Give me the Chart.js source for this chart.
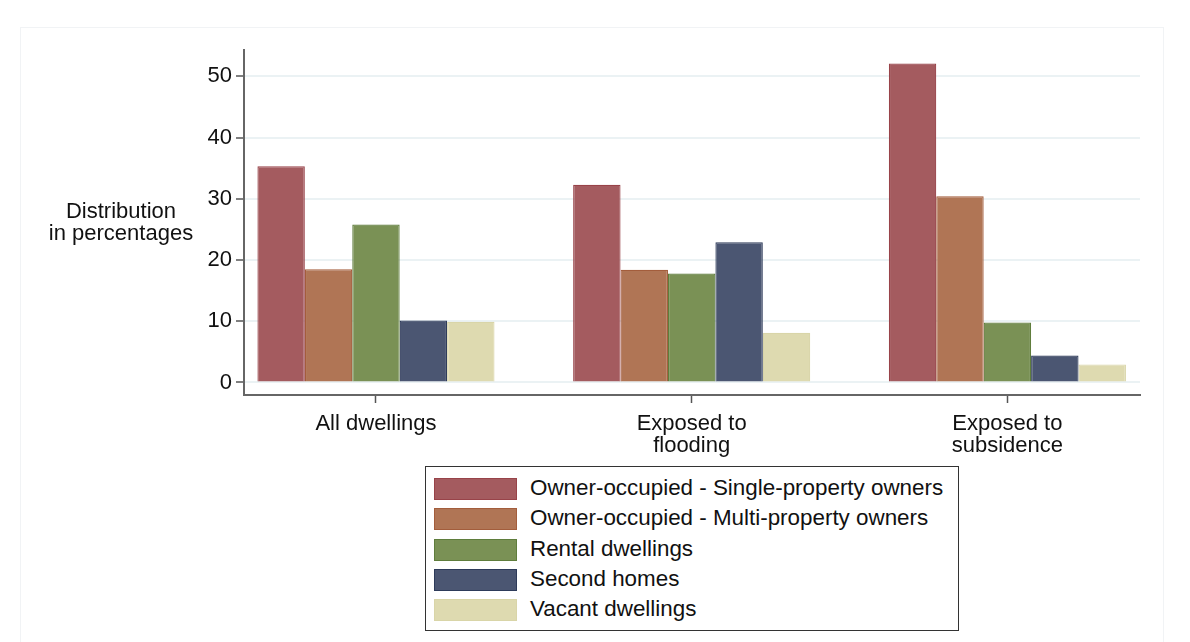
<!DOCTYPE html>
<html>
<head>
  <title>Dwellings by exposure</title>
  <script src="https://cdn.jsdelivr.net/npm/chart.js"></script>
  <style>
    body { margin: 0; background: #fff; font-family: "Liberation Sans", Arial, sans-serif; }
    #wrap { position: relative; width: 1190px; height: 642px; }
    #frame { position: absolute; left: 20px; top: 27px; width: 1142px; height: 620px; border: 1px solid #f1f3f5; }
    #legend {
      position: absolute; left: 425px; top: 466px; width: 532px; height: 163px;
      border: 1px solid #333; background: #fff;
    }
    .item { position: absolute; left: 8px; height: 22px; font-size: 22.4px; color: #111; white-space: nowrap; }
    .swatch { position: absolute; left: 0; top: 0; width: 81px; height: 20px; border: 1px solid; }
    .label { position: absolute; left: 96px; top: -1px; line-height: 22px; }
  </style>
</head>
<body>
<div id="wrap">
  <div id="frame"></div>
  <canvas id="barChart" width="1190" height="642"></canvas>
  <div id="legend"></div>
</div>

<script>
  const categories = [["All dwellings"], ["Exposed to", "flooding"], ["Exposed to", "subsidence"]];
  const seriesNames = [
    "Owner-occupied - Single-property owners",
    "Owner-occupied - Multi-property owners",
    "Rental dwellings",
    "Second homes",
    "Vacant dwellings"
  ];
  const singleOwners = [35.3, 32.3, 52.1];
  const multiOwners = [18.5, 18.4, 30.4];
  const rental = [25.8, 17.8, 9.8];
  const secondHomes = [10.1, 22.9, 4.4];
  const vacant = [9.9, 8.1, 2.95];
  const yTicks = [0, 10, 20, 30, 40, 50];

  const fills = ["#a45b5f", "#b07555", "#7a9155", "#4b5672", "#dedab0"];
  const borders = ["#984349", "#a35d3c", "#5f7d3c", "#2e3b5a", "#d9d5a8"];

  const seriesValues = [singleOwners, multiOwners, rental, secondHomes, vacant];

  const datasets = seriesValues.map((vals, i) => ({
    label: seriesNames[i],
    data: vals.map((v, k) => ({ x: k, y: v })),
    backgroundColor: fills[i],
    borderColor: borders[i],
    borderWidth: 1.2,
    barPercentage: 1,
    categoryPercentage: 0.751
  }));

  // horizontal y-axis title, Stata style
  const yTitle = {
    id: "yTitle",
    afterDraw(chart) {
      const c = chart.ctx;
      c.save();
      c.font = "22px 'Liberation Sans', Arial, sans-serif";
      c.fillStyle = "#111";
      c.textAlign = "center";
      c.textBaseline = "middle";
      c.fillText("Distribution", 121, 212);
      c.fillText("in percentages", 121, 234);
      c.restore();
    }
  };

  const ctx = document.getElementById("barChart").getContext("2d");
  new Chart(ctx, {
    type: "bar",
    data: { datasets },
    plugins: [yTitle],
    options: {
      responsive: false,
      animation: false,
      layout: { padding: { left: 0, top: 50, right: 50, bottom: 177 } },
      plugins: { legend: { display: false }, tooltip: { enabled: false } },
      scales: {
        x: {
          type: "linear",
          offset: false,
          min: -0.418,
          max: 2.42,
          afterBuildTicks: (s) => { s.ticks = [0, 1, 2].map(v => ({ value: v })); },
          afterFit: (s) => { s.height = 70; },
          grid: { offset: false, drawOnChartArea: false, tickLength: 8, tickColor: "#555", tickWidth: 1.5 },
          border: { color: "#666", width: 2 },
          ticks: {
            color: "#111",
            padding: 10,
            maxRotation: 0,
            font: { family: "'Liberation Sans', Arial, sans-serif", size: 22, lineHeight: 1.0 },
            callback: (v) => categories[v]
          }
        },
        y: {
          min: -2.05,
          max: 54.3,
          afterBuildTicks: (s) => { s.ticks = yTicks.map(v => ({ value: v })); },
          afterFit: (s) => { s.width = 244; },
          grid: { color: "#ebf2f4", lineWidth: 2, tickLength: 8, tickColor: "#555", tickWidth: 1.5 },
          border: { color: "#666", width: 2 },
          ticks: {
            color: "#111",
            padding: 4,
            font: { family: "'Liberation Sans', Arial, sans-serif", size: 22 }
          }
        }
      }
    }
  });

  const legend = document.getElementById("legend");
  seriesNames.forEach((name, i) => {
    const row = document.createElement("div");
    row.className = "item";
    row.style.top = (11 + i * 30.3) + "px";
    row.innerHTML = '<div class="swatch" style="background:' + fills[i] + ';border-color:' + borders[i] + '"></div>' +
      '<div class="label">' + name + '</div>';
    legend.appendChild(row);
  });
</script>
</body>
</html>
